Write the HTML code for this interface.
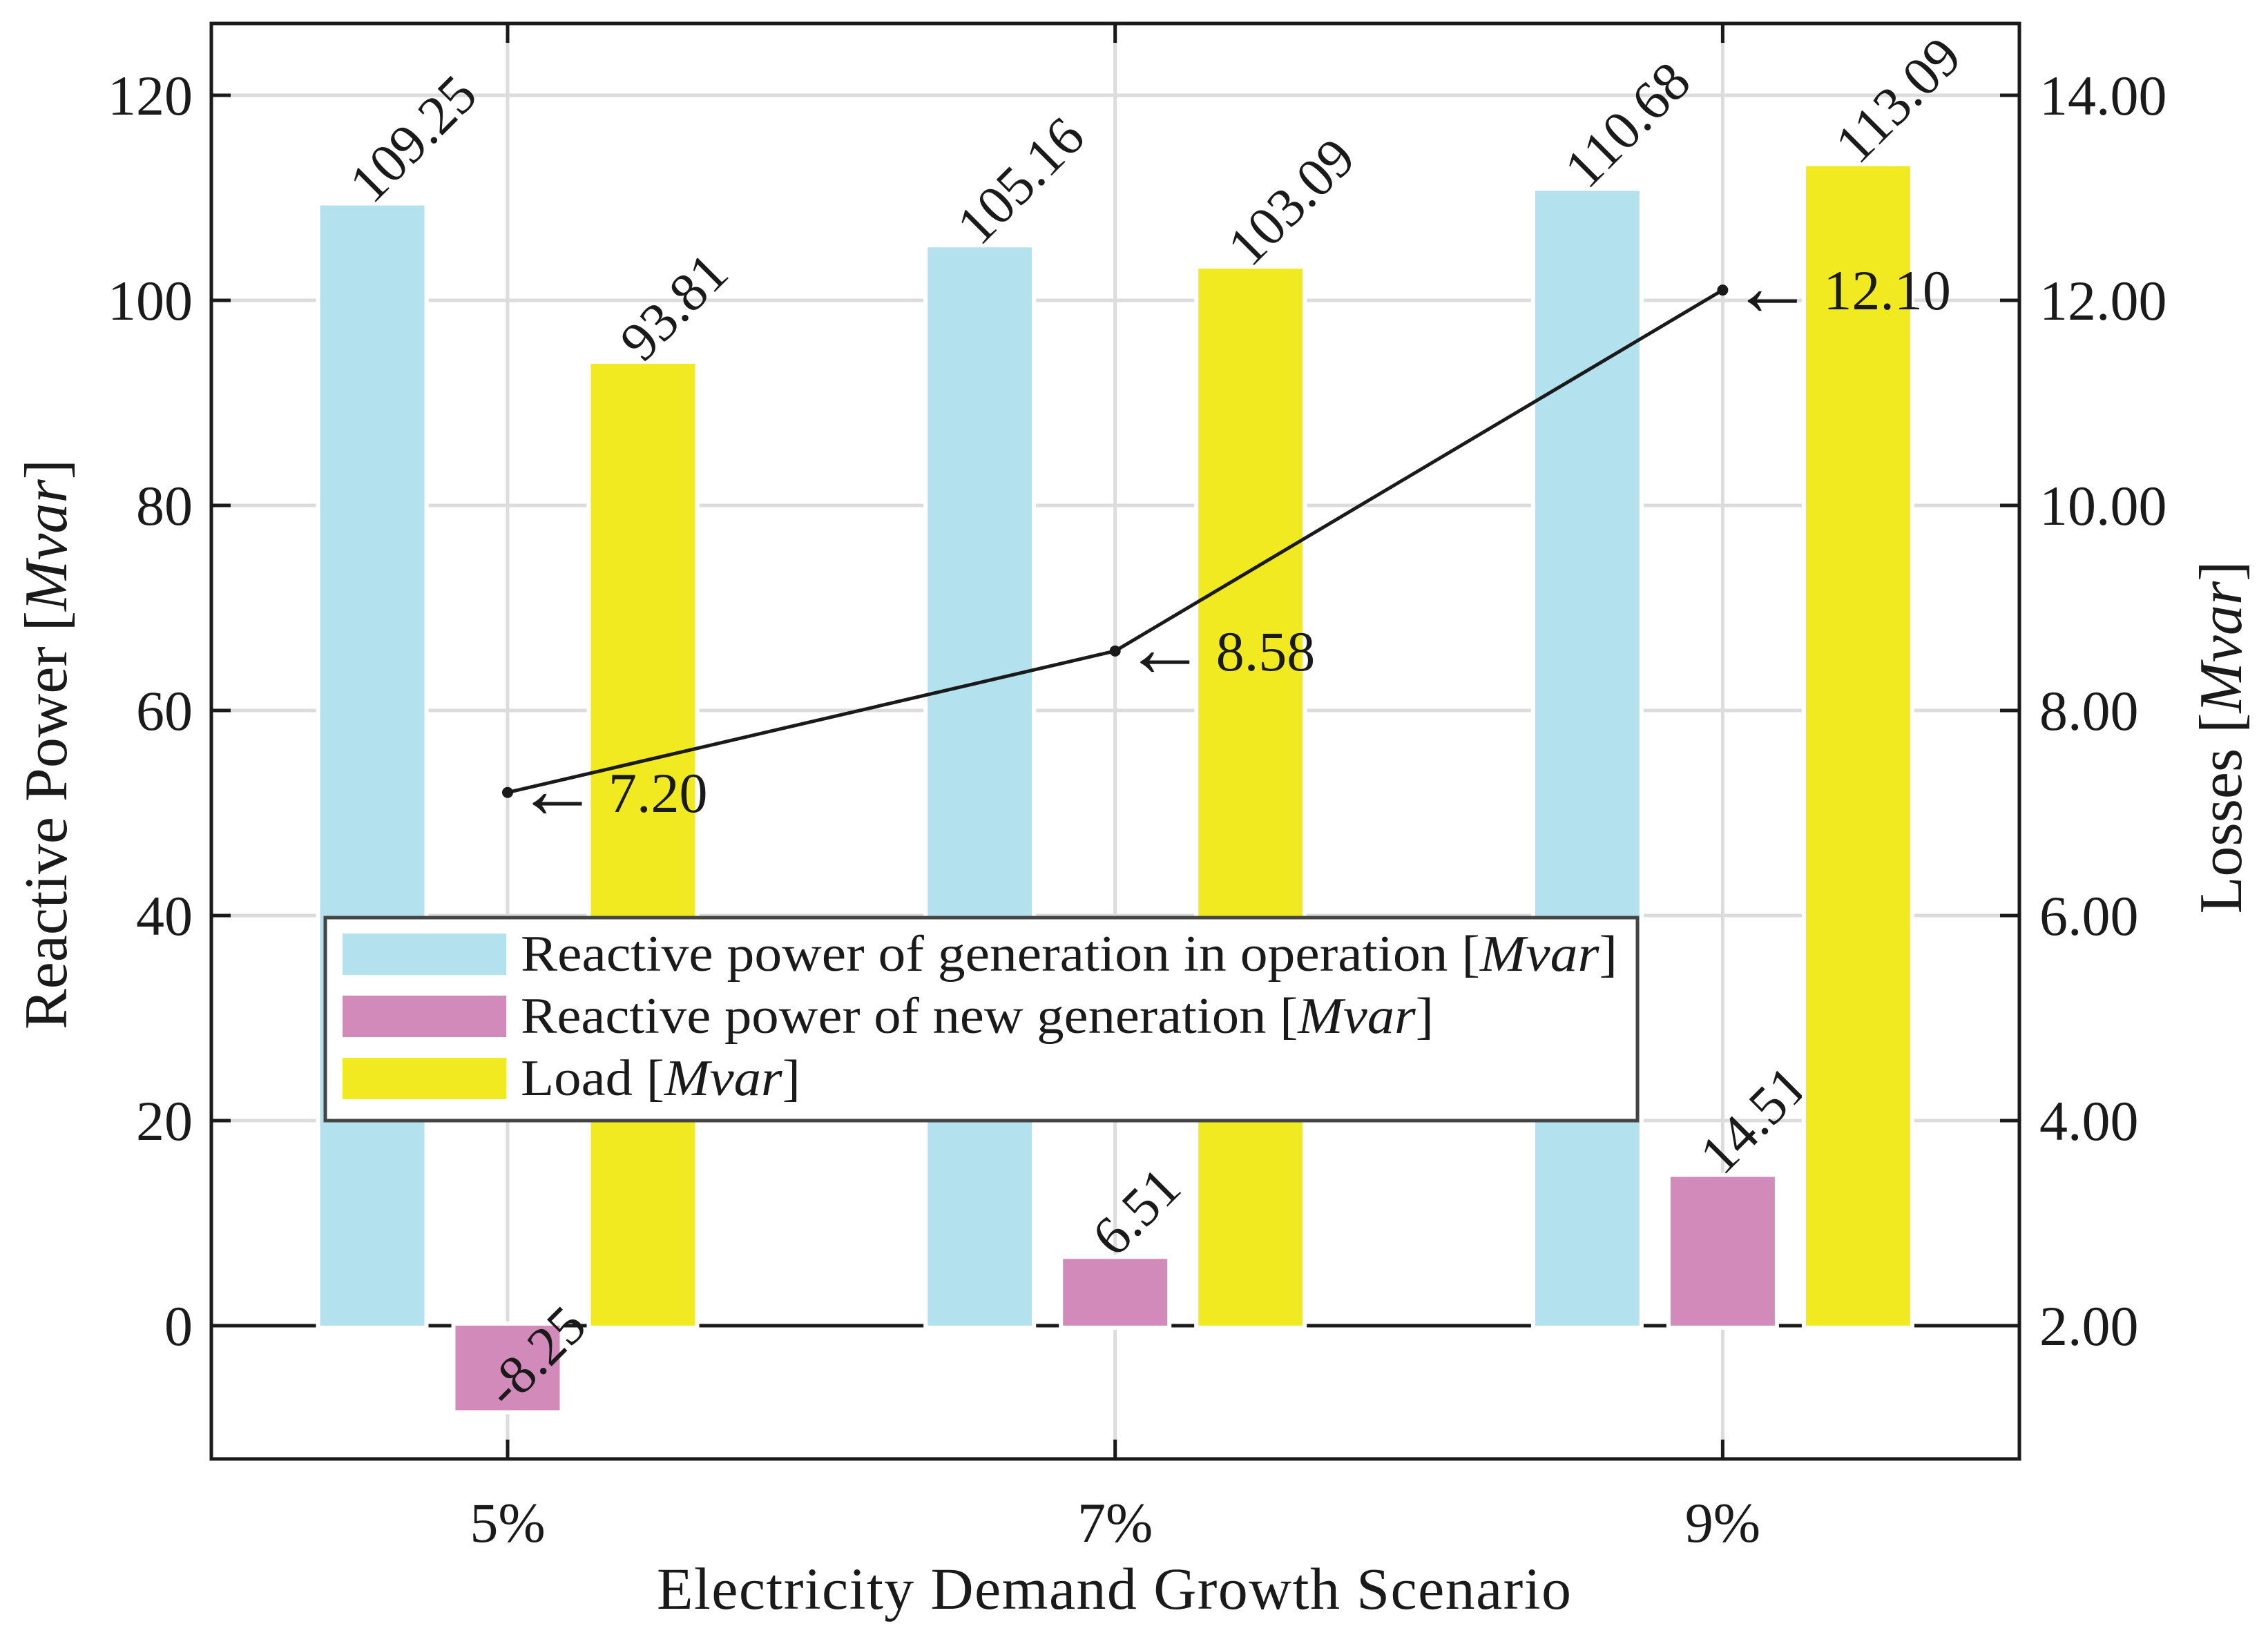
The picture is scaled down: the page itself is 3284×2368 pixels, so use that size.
<!DOCTYPE html>
<html><head><meta charset="utf-8"><style>
html,body{margin:0;padding:0;background:#fff}
svg{display:block}
text{font-family:"Liberation Serif",serif;fill:#1a1a1a}
</style></head><body>
<svg id="chart" width="3284" height="2368" viewBox="0 0 3284 2368" xmlns="http://www.w3.org/2000/svg"></svg>
<script>
const categories = ["5%", "7%", "9%"];
const genOperation = [109.25, 105.16, 110.68];
const newGeneration = [-8.25, 6.51, 14.51];
const load = [93.81, 103.09, 113.09];
const losses = [7.20, 8.58, 12.10];
const leftTicks = [0, 20, 40, 60, 80, 100, 120];
const rightTicks = ["2.00", "4.00", "6.00", "8.00", "10.00", "12.00", "14.00"];

const NS = "http://www.w3.org/2000/svg";
const svg = document.getElementById("chart");
const L = 306, R = 2924, T = 34, B = 2113;
const yMin = -13, yMax = 127;
function y(v){ return B - (v - yMin) / (yMax - yMin) * (B - T); }
function yR(v){ return y((v - 2) * 10); }
function x(i){ return 735 + i * 879.7; }
const barW = 151, off = 196;

function el(tag, attrs, parent){
  const e = document.createElementNS(NS, tag);
  for (const k in attrs) e.setAttribute(k, attrs[k]);
  (parent || svg).appendChild(e);
  return e;
}

leftTicks.forEach(v => {
  const g = el("line", {x1: L, x2: R, y1: y(v), y2: y(v), stroke: "#dcdcdc", "stroke-width": 5});
  
  
});
categories.forEach((c, i) => {
  const g = el("line", {x1: x(i), x2: x(i), y1: T, y2: B, stroke: "#dcdcdc", "stroke-width": 5});
  
  
});
const z = el("line", {x1: L, x2: R, y1: y(0), y2: y(0), stroke: "#1a1a1a", "stroke-width": 5});



const series = [[genOperation, "#b3e1ee", -off, "bar-generation-operation"], [newGeneration, "#d28aba", 0, "bar-new-generation"], [load, "#f2ea20", off, "bar-load"]];
series.forEach(([vals, col, o, nm]) => {
  vals.forEach((v, i) => {
    const cx = x(i) + o;
    const top = Math.min(y(v), y(0)), h = Math.abs(y(v) - y(0));
    const r = el("rect", {x: cx - barW/2, y: top, width: barW, height: h, fill: col, stroke: "#fff", "stroke-width": 12, "paint-order": "stroke"});
    
    
    const t = el("text", {x: cx, y: y(v), "font-size": 80, transform: `rotate(-45 ${cx} ${y(v)})`});
    t.textContent = v.toFixed(2);
    
    
  });
});

const pts = losses.map((v, i) => `${x(i)},${yR(v)}`).join(" ");
const pl = el("polyline", {points: pts, fill: "none", stroke: "#1a1a1a", "stroke-width": 5});


losses.forEach((v, i) => {
  const c = el("circle", {cx: x(i), cy: yR(v), r: 8, fill: "#1a1a1a"});
  
  
  const t = el("text", {x: x(i) + 12, y: yR(v) + 28, "font-size": 82});
  
  
  const a = el("tspan", {"font-size": 120, dy: 8}, t); a.textContent = "\u2190";
  const b = el("tspan", {dy: -8, dx: 14}, t); b.textContent = v.toFixed(2);
});

const fr = el("rect", {x: L, y: T, width: R - L, height: B - T, fill: "none", stroke: "#1a1a1a", "stroke-width": 5});



leftTicks.forEach((v, k) => {
  const a = el("line", {x1: L, x2: L + 28, y1: y(v), y2: y(v), stroke: "#1a1a1a", "stroke-width": 5});
  
  
  const b = el("line", {x1: R - 28, x2: R, y1: y(v), y2: y(v), stroke: "#1a1a1a", "stroke-width": 5});
  
  
  const t = el("text", {x: 279, y: y(v) + 28, "font-size": 82, "text-anchor": "end"});
  t.textContent = v;
  
  
  const t2 = el("text", {x: 2953, y: yR(parseFloat(rightTicks[k])) + 28, "font-size": 82});
  t2.textContent = rightTicks[k];
  
  
});
categories.forEach((c, i) => {
  const a = el("line", {x1: x(i), x2: x(i), y1: B - 28, y2: B, stroke: "#1a1a1a", "stroke-width": 5});
  
  
  const b = el("line", {x1: x(i), x2: x(i), y1: T, y2: T + 28, stroke: "#1a1a1a", "stroke-width": 5});
  
  
  const t = el("text", {x: x(i), y: 2233, "font-size": 82, "text-anchor": "middle"});
  t.textContent = c;
  
  
});

function richLabel(attrs, name, pre){
  const t = el("text", attrs);
  
  
  const s1 = el("tspan", {}, t); s1.textContent = pre + "[";
  const s2 = el("tspan", {"font-style": "italic"}, t); s2.textContent = "Mvar";
  const s3 = el("tspan", {}, t); s3.textContent = "]";
  return t;
}
const xt = el("text", {x: 1613, y: 2330, "font-size": 86, "text-anchor": "middle", textLength: 1324});
xt.textContent = "Electricity Demand Growth Scenario";


richLabel({x: 0, y: 0, "font-size": 88, "text-anchor": "middle", transform: "translate(96 1078) rotate(-90)"}, "left-y-axis-title", "Reactive Power ");
richLabel({x: 0, y: 0, "font-size": 88, "text-anchor": "middle", transform: "translate(3245 1068) rotate(-90)"}, "right-y-axis-title", "Losses ");

const lg = el("g", {});


const lb = el("rect", {x: 471, y: 1329, width: 1900, height: 294, fill: "#fff", stroke: "#444", "stroke-width": 5}, lg);


const legItems = [["#b3e1ee", "Reactive power of generation in operation ", 1382, 1588], ["#d28aba", "Reactive power of new generation ", 1472, 1322], ["#f2ea20", "Load ", 1562, 405]];
legItems.forEach(([col, txt, cy, w]) => {
  const p = el("rect", {x: 496, y: cy - 30, width: 237, height: 60, fill: col}, lg);
  
  
  const t = el("text", {x: 754, y: cy + 24, "font-size": 74, textLength: w, lengthAdjust: "spacingAndGlyphs"}, lg);
  
  
  const s1 = el("tspan", {}, t); s1.textContent = txt + "[";
  const s2 = el("tspan", {"font-style": "italic"}, t); s2.textContent = "Mvar";
  const s3 = el("tspan", {}, t); s3.textContent = "]";
});
</script>
</body></html>
